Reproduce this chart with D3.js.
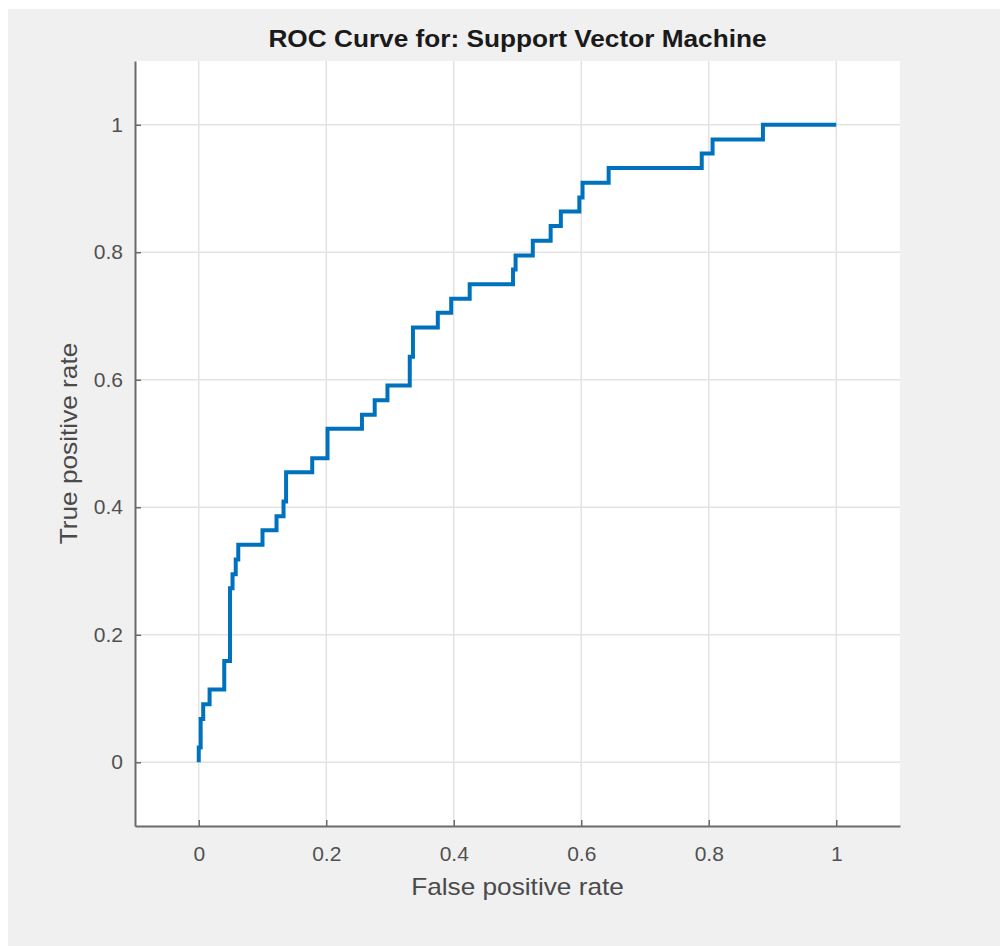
<!DOCTYPE html>
<html>
<head>
<meta charset="utf-8">
<script src="https://cdn.jsdelivr.net/npm/d3@7"></script>
<style>
  body { margin: 0; background: #fff; }
  svg text { font-family: "Liberation Sans", Arial, sans-serif; }
</style>
</head>
<body>
<div id="chart"></div>
<script>
// ROC points (fpr, tpr), stepwise
const fpr = [0, 0, 0.003, 0.003, 0.007, 0.007, 0.017, 0.017, 0.040, 0.040, 0.049, 0.049, 0.053, 0.053,
  0.058, 0.058, 0.062, 0.062, 0.100, 0.100, 0.122, 0.122, 0.133, 0.133, 0.137, 0.137, 0.178, 0.178,
  0.202, 0.202, 0.256, 0.256, 0.276, 0.276, 0.296, 0.296, 0.331, 0.331, 0.336, 0.336, 0.375, 0.375,
  0.396, 0.396, 0.425, 0.425, 0.493, 0.493, 0.497, 0.497, 0.524, 0.524, 0.552, 0.552, 0.568, 0.568,
  0.597, 0.597, 0.602, 0.602, 0.643, 0.643, 0.789, 0.789, 0.806, 0.806, 0.885, 0.885, 1.0];
const tpr = [0, 0.023, 0.023, 0.068, 0.068, 0.091, 0.091, 0.114, 0.114, 0.159, 0.159, 0.273, 0.273, 0.295,
  0.295, 0.318, 0.318, 0.341, 0.341, 0.364, 0.364, 0.386, 0.386, 0.409, 0.409, 0.455, 0.455, 0.477,
  0.477, 0.523, 0.523, 0.545, 0.545, 0.568, 0.568, 0.591, 0.591, 0.636, 0.636, 0.682, 0.682, 0.705,
  0.705, 0.727, 0.727, 0.750, 0.750, 0.773, 0.773, 0.795, 0.795, 0.818, 0.818, 0.841, 0.841, 0.864,
  0.864, 0.886, 0.886, 0.909, 0.909, 0.932, 0.932, 0.955, 0.955, 0.977, 0.977, 1.0, 1.0];
const xTicks = [0, 0.2, 0.4, 0.6, 0.8, 1];
const yTicks = [0, 0.2, 0.4, 0.6, 0.8, 1];
const titleText = "ROC Curve for: Support Vector Machine";

const W = 1000, H = 946;
const margin = { top: 61, right: 100, bottom: 120, left: 135 };
const stretch = 1.14; // the labels in the picture are a bit wider than Arial

const svg = d3.select("#chart").append("svg")
  .attr("width", W)
  .attr("height", H);

// figure background
svg.append("rect")
  .attr("x", 8).attr("y", 9)
  .attr("width", W - 8).attr("height", H - 9)
  .attr("fill", "#f0f0f0");

const x = d3.scaleLinear().domain([-0.1, 1.1]).range([margin.left, W - margin.right]);
const y = d3.scaleLinear().domain([-0.1, 1.1]).range([H - margin.bottom, margin.top]);

// axes box
svg.append("rect")
  .attr("x", x(-0.1)).attr("y", y(1.1))
  .attr("width", x(1.1) - x(-0.1)).attr("height", y(-0.1) - y(1.1))
  .attr("fill", "#fff");

// grid
svg.append("g").selectAll("line").data(xTicks).join("line")
  .attr("x1", d => x(d)).attr("x2", d => x(d))
  .attr("y1", y(1.1)).attr("y2", y(-0.1))
  .attr("stroke", "#e3e3e3").attr("stroke-width", 1.5);
svg.append("g").selectAll("line").data(yTicks).join("line")
  .attr("y1", d => y(d)).attr("y2", d => y(d))
  .attr("x1", x(-0.1)).attr("x2", x(1.1))
  .attr("stroke", "#e3e3e3").attr("stroke-width", 1.5);

// x axis
const xAxis = svg.append("g")
  .attr("transform", "translate(0," + y(-0.1) + ")")
  .call(d3.axisBottom(x).tickValues(xTicks).tickSizeInner(-6).tickSizeOuter(0).tickPadding(20)
    .tickFormat(d3.format("")));
// y axis
const yAxis = svg.append("g")
  .attr("transform", "translate(" + x(-0.1) + ",0)")
  .call(d3.axisLeft(y).tickValues(yTicks).tickSizeInner(-6).tickSizeOuter(0).tickPadding(12)
    .tickFormat(d3.format("")));

[xAxis, yAxis].forEach(g => {
  g.select(".domain").attr("stroke", "#6b6b6b").attr("stroke-width", 2);
  g.selectAll(".tick line").attr("stroke", "#6b6b6b").attr("stroke-width", 1.5);
  g.selectAll(".tick text").attr("fill", "#505050").attr("font-size", 21)
    .attr("font-family", "Liberation Sans, Arial, sans-serif");
});

// ROC curve
const pts = fpr.map((f, i) => [f, tpr[i]]);
svg.append("path")
  .datum(pts)
  .attr("d", d3.line().x(d => x(d[0])).y(d => y(d[1])))
  .attr("fill", "none")
  .attr("stroke", "#0072bd")
  .attr("stroke-width", 4)
  .attr("stroke-linejoin", "miter");

// title
svg.append("text")
  .attr("transform", "translate(" + (x(-0.1) + x(1.1)) / 2 + ",47) scale(" + stretch + ",1)")
  .attr("text-anchor", "middle")
  .attr("font-size", 23)
  .attr("font-weight", "bold")
  .attr("fill", "#1a1a1a")
  .text(titleText);

// axis labels
svg.append("text")
  .attr("transform", "translate(" + (x(-0.1) + x(1.1)) / 2 + ",895) scale(" + stretch + ",1)")
  .attr("text-anchor", "middle")
  .attr("font-size", 23)
  .attr("fill", "#4a4a4a")
  .text("False positive rate");

svg.append("text")
  .attr("transform", "translate(77," + (y(-0.1) + y(1.1)) / 2 + ") rotate(-90) scale(" + stretch + ",1)")
  .attr("text-anchor", "middle")
  .attr("font-size", 23)
  .attr("fill", "#4a4a4a")
  .text("True positive rate");
</script>
</body>
</html>
